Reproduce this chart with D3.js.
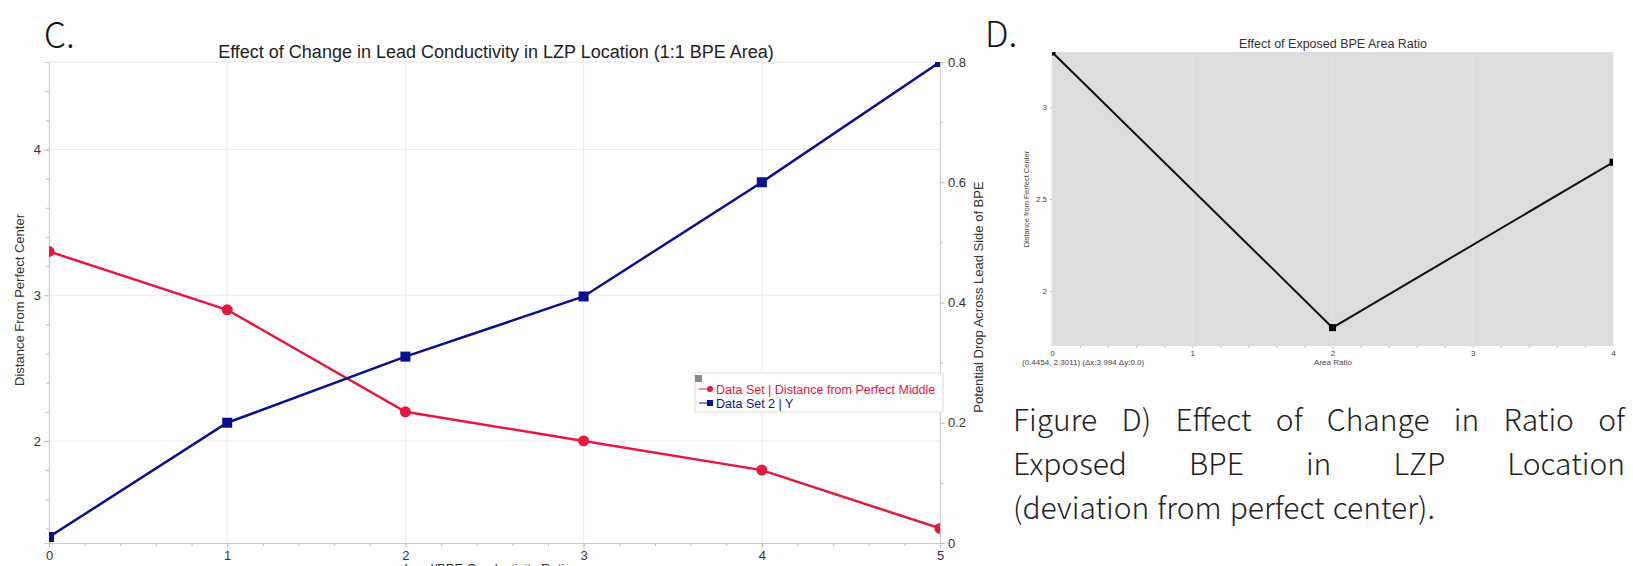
<!DOCTYPE html>
<html>
<head>
<meta charset="utf-8">
<script src="https://cdn.jsdelivr.net/npm/d3@7"></script>
<style>
    body { margin: 0; background: #fff; }
    svg { display: block; }
</style>
</head>
<body>
<svg id="canvas"></svg>
<script>
// chart C data
var ratioX = [0, 1, 2, 3, 4, 5],
    distanceVals = [3.3, 2.9, 2.2, 2.0, 1.8, 1.4],
    dropVals = [0.01, 0.2, 0.31, 0.41, 0.6, 0.8];

var cBottomTicks = [0, 1, 2, 3, 4, 5],
    cLeftTicks = [2, 3, 4],
    cRightTicks = [0, 0.2, 0.4, 0.6, 0.8];

// chart D data
var areaRatioX = [0, 2, 4],
    areaDistVals = [3.3, 1.8, 2.7];

var dBottomTicks = [0, 1, 2, 3, 4],
    dLeftTicks = [2, 2.5, 3];

var captionLines = [
    "Figure D) Effect of Change in Ratio of",
    "Exposed BPE in LZP Location",
    "(deviation from perfect center)."
];

var redColor = "#e8173d",
    blueColor = "#0a0f8f",
    armFont = "'Liberation Sans', Arial, sans-serif",
    capFont = "'Noto Sans CJK KR', 'Noto Sans', sans-serif";

var plainFormat = function(d) { return String(d); };

var svg = d3.select("#canvas")
    .attr("width", 1633)
    .attr("height", 566);

function drawChartC() {

    let xC = d3.scaleLinear().domain([0, 5]).range([49, 940]),
        yL = d3.scaleLinear().domain([1.3, 4.6]).range([543, 62]),
        yR = d3.scaleLinear().domain([0, 0.8]).range([543, 62]);

    let g = svg.append("g");

    g.append("defs").append("clipPath").attr("id", "clipC")
        .append("rect")
        .attr("x", 49).attr("y", 62)
        .attr("width", 891).attr("height", 481);

    // grid
    g.selectAll(".vgrid").data(cBottomTicks).enter().append("line")
        .attr("x1", function(d) { return xC(d); })
        .attr("x2", function(d) { return xC(d); })
        .attr("y1", 62).attr("y2", 543)
        .attr("stroke", "#ececec");
    g.selectAll(".hgrid").data(cLeftTicks).enter().append("line")
        .attr("x1", 49).attr("x2", 940)
        .attr("y1", function(d) { return yL(d); })
        .attr("y2", function(d) { return yL(d); })
        .attr("stroke", "#ececec");
    g.append("line")
        .attr("x1", 49).attr("x2", 940).attr("y1", 62).attr("y2", 62)
        .attr("stroke", "#e4e4e4");

    // axes
    let leftMinor = g.append("g").attr("transform", "translate(49,0)")
        .call(d3.axisLeft(yL).tickValues(d3.range(1.4, 4.61, 0.2)).tickSize(3).tickFormat(""));
    let leftMajor = g.append("g").attr("transform", "translate(49,0)")
        .call(d3.axisLeft(yL).tickValues(cLeftTicks).tickSize(5).tickPadding(3).tickFormat(plainFormat));
    let bottomMinor = g.append("g").attr("transform", "translate(0,543)")
        .call(d3.axisBottom(xC).tickValues(d3.range(0.2, 5, 0.2)).tickSize(3).tickFormat(""));
    let bottomMajor = g.append("g").attr("transform", "translate(0,543)")
        .call(d3.axisBottom(xC).tickValues(cBottomTicks).tickSize(5).tickPadding(3).tickFormat(plainFormat));
    let rightMinor = g.append("g").attr("transform", "translate(940,0)")
        .call(d3.axisRight(yR).tickValues([0.1, 0.3, 0.5, 0.7]).tickSize(3).tickFormat(""));
    let rightMajor = g.append("g").attr("transform", "translate(940,0)")
        .call(d3.axisRight(yR).tickValues(cRightTicks).tickSize(5).tickPadding(3).tickFormat(plainFormat));

    [leftMinor, leftMajor, bottomMinor, bottomMajor, rightMinor, rightMajor].forEach(function(ax) {
        ax.select(".domain").attr("stroke", "#cfcfcf");
        ax.selectAll(".tick line").attr("stroke", "#bdbdbd");
        ax.selectAll(".tick text")
            .attr("fill", "#333")
            .style("font-family", armFont)
            .style("font-size", "13px");
    });

    // lines
    let plot = g.append("g").attr("clip-path", "url(#clipC)");

    let redLine = d3.line()
        .x(function(d, i) { return xC(ratioX[i]); })
        .y(function(d) { return yL(d); });
    let blueLine = d3.line()
        .x(function(d, i) { return xC(ratioX[i]); })
        .y(function(d) { return yR(d); });

    plot.append("path").datum(distanceVals)
        .attr("d", redLine)
        .attr("fill", "none")
        .attr("stroke", redColor)
        .attr("stroke-width", 2.5);
    plot.append("path").datum(dropVals)
        .attr("d", blueLine)
        .attr("fill", "none")
        .attr("stroke", blueColor)
        .attr("stroke-width", 2.5);

    plot.selectAll(".redDot").data(distanceVals).enter().append("circle")
        .attr("cx", function(d, i) { return xC(ratioX[i]); })
        .attr("cy", function(d) { return yL(d); })
        .attr("r", 5.5)
        .attr("fill", redColor);
    plot.selectAll(".blueSq").data(dropVals).enter().append("rect")
        .attr("x", function(d, i) { return xC(ratioX[i]) - 5; })
        .attr("y", function(d) { return yR(d) - 5; })
        .attr("width", 10)
        .attr("height", 10)
        .attr("fill", blueColor);

    // titles
    g.append("text")
        .attr("x", 496).attr("y", 58)
        .attr("text-anchor", "middle")
        .style("font-family", armFont).style("font-size", "18px")
        .attr("fill", "#222")
        .text("Effect of Change in Lead Conductivity in LZP Location (1:1 BPE Area)");

    g.append("text")
        .attr("transform", "translate(24,300) rotate(-90)")
        .attr("text-anchor", "middle")
        .style("font-family", armFont).style("font-size", "13px")
        .attr("fill", "#333")
        .text("Distance From Perfect Center");

    g.append("text")
        .attr("transform", "translate(983,297) rotate(-90)")
        .attr("text-anchor", "middle")
        .style("font-family", armFont).style("font-size", "13px")
        .attr("fill", "#333")
        .text("Potential Drop Across Lead Side of BPE");

    // axis title sits partly below the bottom edge, as in the source figure
    g.append("text")
        .attr("x", 488).attr("y", 573)
        .attr("text-anchor", "middle")
        .style("font-family", armFont).style("font-size", "13px")
        .attr("fill", "#333")
        .text("Lead/BPE Conductivity Ratio");

    // legend
    let legend = g.append("g");
    legend.append("rect")
        .attr("x", 695).attr("y", 373)
        .attr("width", 248).attr("height", 39)
        .attr("fill", "#fff")
        .attr("stroke", "#dcdcdc");
    legend.append("rect")
        .attr("x", 695).attr("y", 375)
        .attr("width", 7).attr("height", 7)
        .attr("fill", "#888");

    let legendItems = [
        { label: "Data Set | Distance from Perfect Middle", color: redColor, shape: "circle", y: 389 },
        { label: "Data Set 2 | Y", color: blueColor, shape: "square", y: 403 }
    ];
    let items = legend.selectAll(".item").data(legendItems).enter().append("g");
    items.append("line")
        .attr("x1", 699).attr("x2", 709)
        .attr("y1", function(d) { return d.y; })
        .attr("y2", function(d) { return d.y; })
        .attr("stroke", function(d) { return d.color; })
        .attr("stroke-width", 1);
    items.each(function(d) {
        let item = d3.select(this);
        if (d.shape === "circle") {
            item.append("circle").attr("cx", 710).attr("cy", d.y).attr("r", 3).attr("fill", d.color);
        } else {
            item.append("rect").attr("x", 707).attr("y", d.y - 3).attr("width", 6).attr("height", 6).attr("fill", d.color);
        }
    });
    items.append("text")
        .attr("x", 716)
        .attr("y", function(d) { return d.y + 4.5; })
        .style("font-family", armFont).style("font-size", "12.5px")
        .attr("fill", function(d) { return d.color; })
        .text(function(d) { return d.label; });

    svg.append("text")
        .attr("x", 44).attr("y", 48)
        .style("font-family", capFont).style("font-size", "35px").style("font-weight", 300)
        .attr("fill", "#111")
        .text("C.");
}

function drawChartD() {

    let xD = d3.scaleLinear().domain([0, 4]).range([1052, 1613]),
        yD = d3.scaleLinear().domain([1.7, 3.3]).range([346, 52]);

    let g = svg.append("g");

    g.append("defs").append("clipPath").attr("id", "clipD")
        .append("rect")
        .attr("x", 1052).attr("y", 52)
        .attr("width", 561).attr("height", 294);

    g.append("rect")
        .attr("x", 1052).attr("y", 52)
        .attr("width", 561).attr("height", 294)
        .attr("fill", "#dddddd");

    g.selectAll(".vgrid").data(dBottomTicks).enter().append("line")
        .attr("x1", function(d) { return xD(d); })
        .attr("x2", function(d) { return xD(d); })
        .attr("y1", 52).attr("y2", 346)
        .attr("stroke", "#e3e3e3");

    let bottomMinor = g.append("g").attr("transform", "translate(0,346)")
        .call(d3.axisBottom(xD).tickValues(d3.range(0.2, 4, 0.2)).tickSize(2).tickFormat(""));
    let bottomMajor = g.append("g").attr("transform", "translate(0,346)")
        .call(d3.axisBottom(xD).tickValues(dBottomTicks).tickSize(0).tickPadding(4).tickFormat(plainFormat));
    let leftMajor = g.append("g").attr("transform", "translate(1052,0)")
        .call(d3.axisLeft(yD).tickValues(dLeftTicks).tickSize(2).tickPadding(3).tickFormat(plainFormat));

    [bottomMinor, bottomMajor, leftMajor].forEach(function(ax) {
        ax.select(".domain").remove();
        ax.selectAll(".tick line").attr("stroke", "#c4c4c4");
        ax.selectAll(".tick text")
            .attr("fill", "#444")
            .style("font-family", armFont)
            .style("font-size", "8px");
    });

    let plot = g.append("g").attr("clip-path", "url(#clipD)");

    let areaLine = d3.line()
        .x(function(d, i) { return xD(areaRatioX[i]); })
        .y(function(d) { return yD(d); });

    plot.append("path").datum(areaDistVals)
        .attr("d", areaLine)
        .attr("fill", "none")
        .attr("stroke", "#111")
        .attr("stroke-width", 2);

    plot.selectAll(".sq").data(areaDistVals).enter().append("rect")
        .attr("x", function(d, i) { return xD(areaRatioX[i]) - 3.5; })
        .attr("y", function(d) { return yD(d) - 3.5; })
        .attr("width", 7)
        .attr("height", 7)
        .attr("fill", "#000");

    g.append("text")
        .attr("x", 1333).attr("y", 48)
        .attr("text-anchor", "middle")
        .style("font-family", armFont).style("font-size", "12.5px")
        .attr("fill", "#333")
        .text("Effect of Exposed BPE Area Ratio");

    g.append("text")
        .attr("transform", "translate(1029,199) rotate(-90)")
        .attr("text-anchor", "middle")
        .style("font-family", armFont).style("font-size", "7.5px")
        .attr("fill", "#444")
        .text("Distance from Perfect Center");

    g.append("text")
        .attr("x", 1333).attr("y", 365)
        .attr("text-anchor", "middle")
        .style("font-family", armFont).style("font-size", "8px")
        .attr("fill", "#444")
        .text("Area Ratio");

    g.append("text")
        .attr("x", 1022).attr("y", 365)
        .style("font-family", armFont).style("font-size", "8px")
        .attr("fill", "#444")
        .text("(0.4454, 2.3011) (\u0394x:3.994 \u0394y:0.0)");

    svg.append("text")
        .attr("x", 985).attr("y", 47)
        .style("font-family", capFont).style("font-size", "35px").style("font-weight", 300)
        .attr("fill", "#111")
        .text("D.");
}

function drawCaption() {

    let left = 1013,
        right = 1625,
        baselines = [431, 475, 519];

    captionLines.forEach(function(line, li) {
        let words = line.split(" ");
        let texts = svg.append("g").selectAll("text").data(words).enter().append("text")
            .attr("y", baselines[li])
            .style("font-family", capFont).style("font-size", "30px").style("font-weight", 300)
            .attr("fill", "#222")
            .text(function(d) { return d; });

        // justify every line but the last one
        let widths = [];
        texts.each(function() { widths.push(this.getComputedTextLength()); });
        let total = d3.sum(widths);
        let gap = 8;
        if (li < captionLines.length - 1) {
            gap = (right - left - total) / (words.length - 1);
        }
        let x = left;
        texts.attr("x", function(d, i) {
            let cur = x;
            x += widths[i] + gap;
            return cur;
        });
    });
}

drawChartC();
drawChartD();
drawCaption();
</script>
</body>
</html>
